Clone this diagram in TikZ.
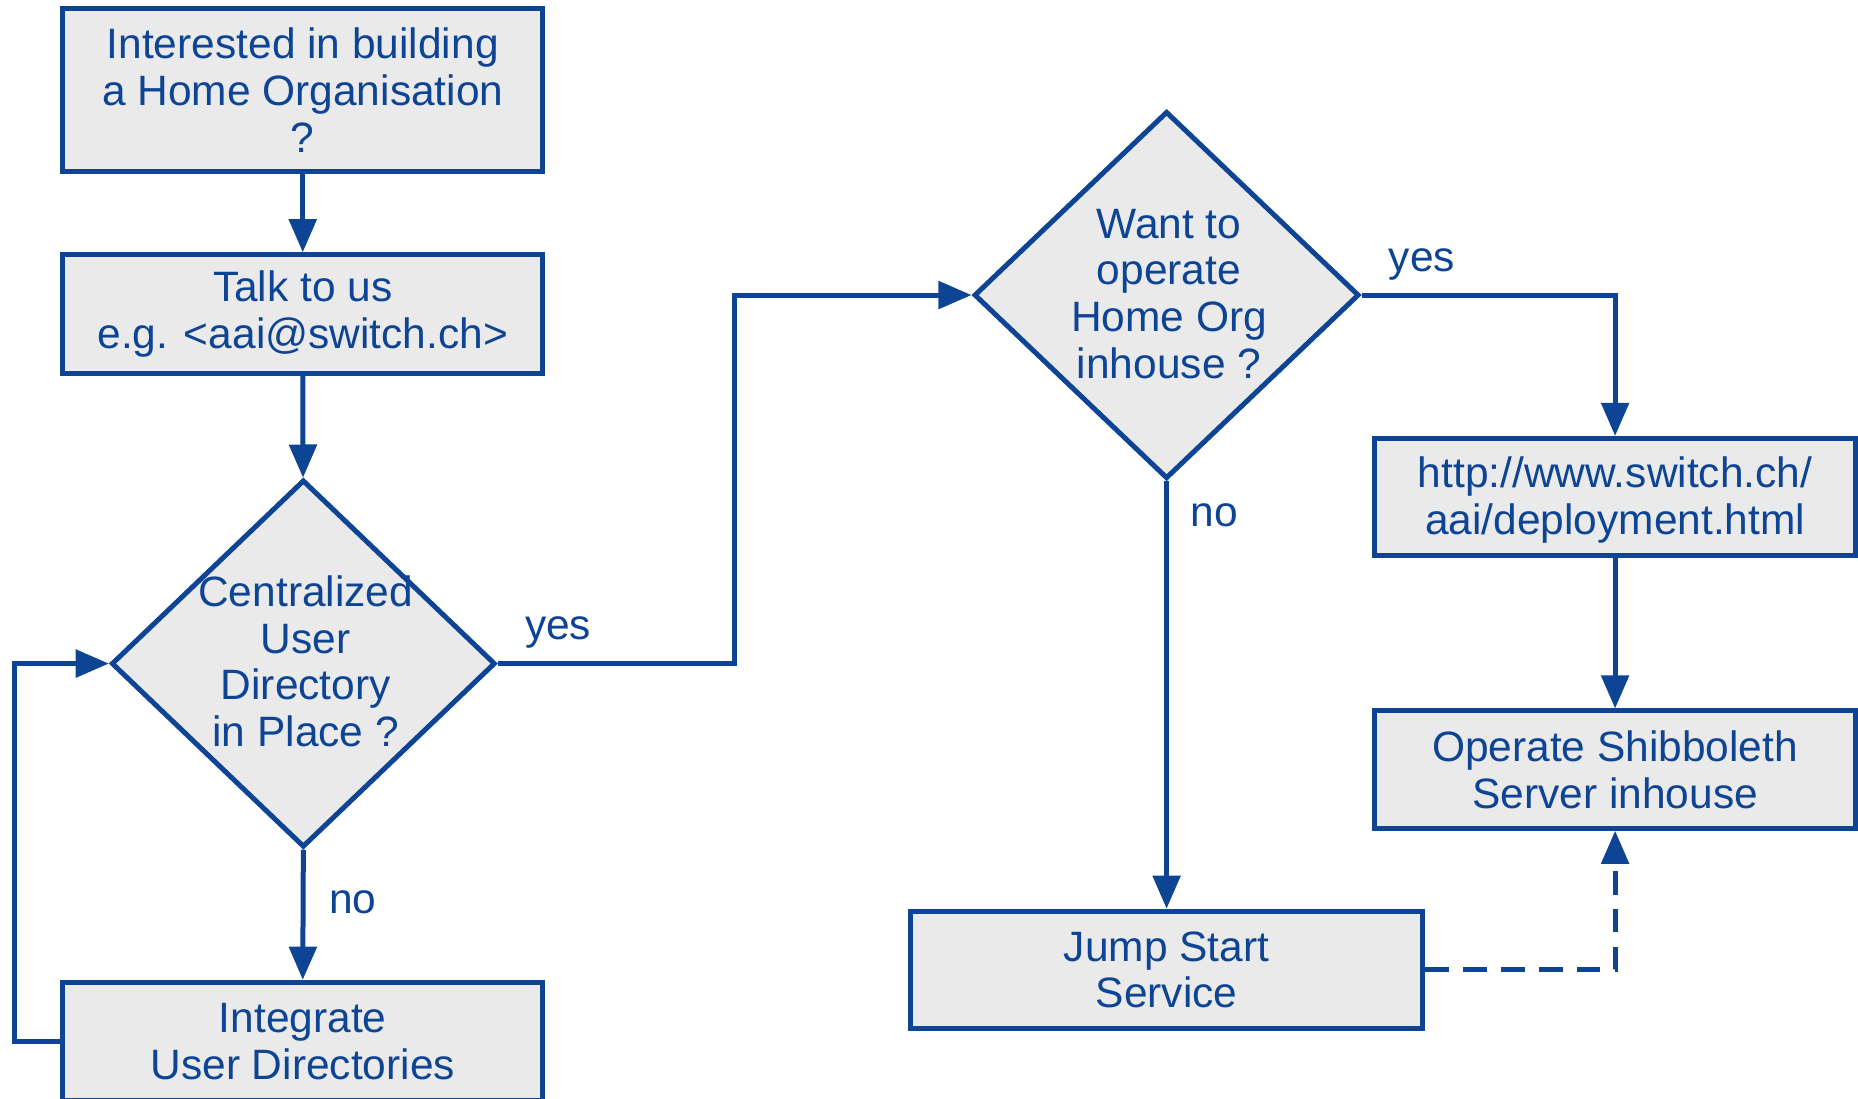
\documentclass[tikz,border=0pt]{standalone}
\usepackage{fontspec}
\setmainfont{Liberation Sans}
\usepackage{tikz}
\usetikzlibrary{calc}
\usetikzlibrary{arrows.meta}
\usetikzlibrary{shapes.geometric}
\definecolor{swblue}{RGB}{14,68,148}
\definecolor{swgray}{RGB}{234,234,234}
\tikzset{
	every node/.append style={text=swblue, font=\fontsize{10.2}{11.2}\selectfont},
	stepbox/.style={rectangle, draw=swblue, fill=swgray, line width=1.2pt, minimum width=4.05cm, minimum height=1cm, align=center, inner sep=0pt},
	decision/.style={diamond, draw=swblue, fill=swgray, line width=1.2pt, minimum width=3.24cm, minimum height=3.1cm, inner sep=0pt},
	flow/.style={draw=swblue, line width=1.2pt, -{Triangle[length=0.28cm, width=0.23cm]}},
	answer/.style={inner sep=0pt},
}

\begin{document}
\begin{tikzpicture}
	\useasboundingbox (0,0) rectangle (15.68,-9.27);
	\node[stepbox, minimum height=1.38cm] at (2.555,-0.76) (start) {Interested in building\\a Home Organisation\\?};
	\node[stepbox] at (2.555,-2.65) (talk) {\raisebox{-0.3mm}{\shortstack{Talk to us\\[0.3mm]e.g. <aai@switch.ch>}}};
	\node[decision] at (2.56,-5.6) (central) {};
	\node[align=center, inner sep=0pt] at ($(central) + (0.02,0.02)$) (centraltext) {Centralized\\User\\Directory\\in Place ?};
	\node[stepbox] at (2.555,-8.79) (integrate) {Integrate\\User Directories};
	\node[decision, minimum width=3.25cm] at (9.845,-2.49) (inhouse) {};
	\node[align=center, inner sep=0pt] at ($(inhouse) + (0.02,0.01)$) (inhousetext) {Want to\\operate\\Home Org\\inhouse ?};
	\node[stepbox, minimum width=4.06cm, minimum height=0.99cm, text depth=0.3mm] at (13.63,-4.195) (url) {http://www.switch.ch/\\aai/deployment.html};
	\node[stepbox, minimum width=4.06cm, minimum height=0.99cm] at (13.63,-6.495) (shib) {Operate Shibboleth\\Server inhouse};
	\node[stepbox, minimum width=4.32cm, minimum height=0.99cm] at (9.845,-8.185) (jump) {Jump Start\\Service};

	\coordinate (loop) at (0.12,-8.79);
	\coordinate (bend) at (6.2,-5.6);

	\draw[flow] (start) -- (talk);
	\draw[flow] (talk) -- (central);
	\draw[flow] (central.south) -- (integrate.north) node[answer, pos=0.4, right=0.2cm] (no1) {no};
	\draw[flow] (integrate.west) -- (loop) |- (central.west);
	\draw[flow] (central.east) -- (bend) |- (inhouse.west);
	\node[answer] at (4.71,-5.34) (yes1) {yes};
	\draw[flow] (inhouse.east) -| (url.north);
	\node[answer] at (12.0,-2.23) (yes2) {yes};
	\draw[flow] (inhouse.south) -- (jump.north);
	\node[answer] at (10.25,-4.35) (no2) {no};
	\draw[flow] (url) -- (shib);
	\draw[flow, dash pattern=on 0.2cm off 0.12cm] (jump.east) -| (shib.south);
\end{tikzpicture}
\end{document}
